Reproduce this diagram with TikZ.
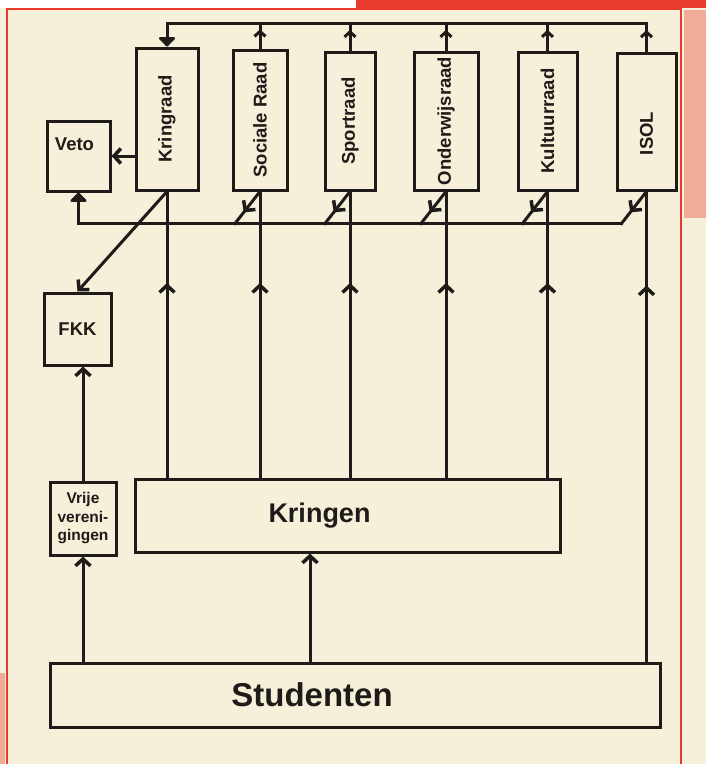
\documentclass[tikz,border=0pt]{standalone}
\usepackage{fontspec}
\setmainfont{Liberation Sans}
\usetikzlibrary{arrows.meta,decorations.markings}
\definecolor{paper}{RGB}{246,240,218}
\definecolor{ink}{RGB}{30,27,24}
\definecolor{framered}{RGB}{234,60,46}
\definecolor{hatchred}{RGB}{241,172,152}
\tikzstyle{box}=[draw=ink,line width=3pt,inner sep=0pt,text=ink]
\tikzstyle{line}=[draw=ink,color=ink,line width=3pt,line cap=rect]
\tikzstyle{edge}=[line,-{Straight Barb[length=7pt,width=15pt,line width=3.5pt]}]
\tikzstyle{heavy}=[line,-{Triangle[length=10pt,width=19pt,round]}]
\tikzstyle{raad}=[font=\fontsize{18.5}{20}\selectfont\bfseries,text=ink]
\tikzstyle{small}=[font=\fontsize{18.5}{20}\selectfont\bfseries,text=ink]
\tikzset{midarrow/.style={postaction={decorate},decoration={markings,
  mark=at position #1 with {\arrow{Straight Barb[length=7pt,width=15pt,line width=3.5pt]}}}}}
\tikzset{toparrow/.style={postaction={decorate},decoration={markings,
  mark=at position #1 with {\arrow{Straight Barb[length=5pt,width=11pt,line width=3pt]}}}}}

\begin{document}
\begin{tikzpicture}[x=1pt,y=-1pt]
    \useasboundingbox (0,0) rectangle (706,764);
    % paper, page frame and the hatched margins
    \fill[paper] (0,0) rectangle (706,764);
    \fill[white] (0,0) rectangle (356,8);
    \fill[framered] (356,0) rectangle (706,8);
    \fill[hatchred] (684,10) rectangle (706,218);
    \fill[hatchred] (0,673) rectangle (5,764);
    \draw[framered,line width=2pt] (7,764) -- (7,9) -- (681,9) -- (681,764);
    % First the councils
    \foreach \pos/\name/\bw/\bh/\dy/\txt in {{(167,119)/kringraad/62/142/0/Kringraad},
                            {(260,120)/sociale/54/140/0/Sociale Raad}, {(350,121)/sport/50/138/0/Sportraad},
                            {(446,121)/onderwijs/64/138/0/Onderwijsraad}, {(547.5,121)/kultuur/59/138/0/Kultuurraad},
                            {(646.5,121.5)/isol/59/137/-24/ISOL}}
        \node[box, minimum width=\bw, minimum height=\bh,
              label={[raad,rotate=90]center:\hspace*{\dy pt}\txt}] (\name) at \pos {};
    % the other boxes
    \node[box, minimum width=63, minimum height=70,
          label={[small,xshift=-4pt,yshift=12pt]center:Veto}] (veto) at (78.5,156) {};
    \node[box, small, minimum width=67, minimum height=72] (fkk) at (77.5,329) {FKK};
    \node[box, minimum width=66, minimum height=73, align=center,
          font=\fontsize{15.5}{18.5}\selectfont\bfseries] (vrije) at (83,518.5) {Vrije\\vereni-\\gingen};
    \node[box, minimum width=425, minimum height=73,
          label={[font=\fontsize{27}{30}\selectfont\bfseries,text=ink,xshift=-28pt]center:Kringen}] (kringen) at (347.5,515.5) {};
    \node[box, minimum width=610, minimum height=64,
          label={[font=\fontsize{33}{36}\selectfont\bfseries,text=ink,xshift=-43pt]center:Studenten}] (studenten) at (355,695) {};
    % top line between the councils
    \coordinate (top) at (0,23);
    \draw[line] (kringraad.north |- top) -- (isol.north |- top);
    \draw[heavy] (kringraad.north |- top) -- (kringraad.north);
    \foreach \name in {sociale,sport,onderwijs,kultuur,isol}{
        \draw[line,toparrow=0.75] (\name.north) -- (\name.north |- top);
        \draw[line,midarrow=0.65] (\name.south) -- ++(-25,32) coordinate (\name-d);
    }
    % lower line to Veto
    \draw[heavy] (isol-d) -- (veto.south |- isol-d) -- (veto.south);
    \draw[edge] (kringraad.west |- veto.east) -- (veto.east);
    \draw[edge] (kringraad.south) -- (fkk.north);
    % Kringen and Studenten upwards
    \foreach \name in {kringraad,sociale,sport,onderwijs,kultuur}
        \draw[line,midarrow=0.68] (\name.south |- kringen.north) -- (\name.south);
    \draw[line,midarrow=0.8] (isol.south |- studenten.north) -- (isol.south);
    \draw[edge] (vrije.north) -- (vrije.north |- fkk.south);
    \draw[edge] (vrije.south |- studenten.north) -- (vrije.south);
    \draw[edge] ([xshift=-45pt]studenten.north) -- ([xshift=-45pt]studenten.north |- kringen.south);
\end{tikzpicture}
\end{document}
